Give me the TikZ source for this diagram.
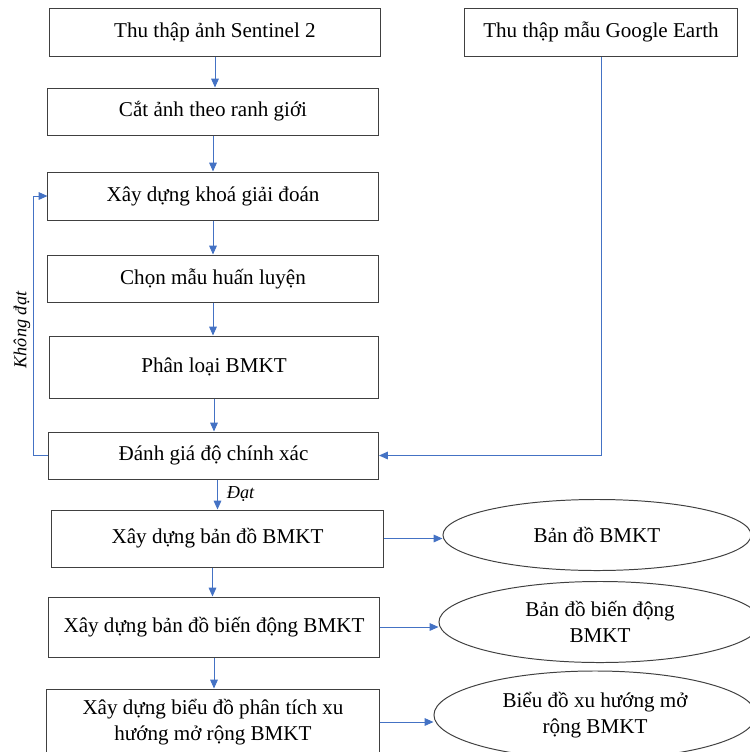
\documentclass[tikz,border=0pt]{standalone}
\usepackage{fontspec}
\setmainfont{Liberation Serif}
\usetikzlibrary{arrows.meta, positioning, calc, shapes, shapes.geometric}
\definecolor{flowblue}{RGB}{68,114,196}
\definecolor{boxgray}{RGB}{64,64,64}

\begin{document}
\begin{tikzpicture}[x=0.025cm,y=-0.025cm,
    box/.style={draw=boxgray,line width=0.7pt,rectangle,minimum width=8.25cm,align=center,font=\fontsize{15}{19}\selectfont},
    oval/.style={draw=boxgray,line width=0.7pt,ellipse,align=center,inner sep=0pt,font=\fontsize{15}{19}\selectfont},
    link/.style={draw=flowblue,line width=0.7pt,-{Triangle[length=2.2mm,width=1.9mm]}},
    tag/.style={font=\fontsize{13}{15}\selectfont\itshape}]
      \useasboundingbox (0,0) rectangle (750,752);
      \clip (0,0) rectangle (750,752);
      \node[box,minimum height=1.2cm] (Sentinel) at (215,32){Thu thập ảnh Sentinel 2};
      \node[box,minimum height=1.2cm,minimum width=6.8cm] (Google) at (601,32){Thu thập mẫu Google Earth};
      \node[box,minimum height=1.175cm] (Cat) at (213,111.5){Cắt ảnh theo ranh giới};
      \node[box,minimum height=1.2cm] (Khoa) at (213,196){Xây dựng khoá giải đoán};
      \node[box,minimum height=1.175cm] (Mau) at (213,278.5){Chọn mẫu huấn luyện};
      \node[box,minimum height=1.55cm,minimum width=8.2cm] (PhanLoai) at (214,367){Phân loại BMKT};
      \node[box,minimum height=1.175cm] (DanhGia) at (213.5,455.5){Đánh giá độ chính xác};
      \node[box,minimum height=1.425cm,minimum width=8.275cm] (BanDo) at (217.5,538.5){Xây dựng bản đồ BMKT};
      \node[box,minimum height=1.5cm] (BienDong) at (214,627){Xây dựng bản đồ biến động BMKT};
      \node[box,minimum height=1.65cm,minimum width=8.3cm] (BieuDo) at (213,722){Xây dựng biểu đồ phân tích xu\\hướng mở rộng BMKT};
      \node[oval,minimum width=7.7cm,minimum height=1.775cm] (OBanDo) at (597,535){Bản đồ BMKT};
      \node[oval,minimum width=8.05cm,minimum height=2.025cm] (OBienDong) at (600,622){Bản đồ biến động\\BMKT};
      \node[oval,minimum width=8.05cm,minimum height=2.2cm] (OBieuDo) at (595,715){Biểu đồ xu hướng mở\\rộng BMKT};
      \draw[link] (Sentinel.south) -- (Sentinel.south |- Cat.north);
      \draw[link] (Cat.south) -- (Cat.south |- Khoa.north);
      \draw[link] (Khoa.south) -- (Khoa.south |- Mau.north);
      \draw[link] (Mau.south) -- (Mau.south |- PhanLoai.north);
      \draw[link] (PhanLoai.south) -- (PhanLoai.south |- DanhGia.north);
      \draw[link] (BanDo.south) ++(-5,0) coordinate (B0) -- (B0 |- BienDong.north);
      \draw[link] (BienDong.south) -- (BienDong.south |- BieuDo.north);
      \draw[link] (DanhGia.south) ++(4,0) coordinate (D0) -- (D0 |- BanDo.north) node[tag,midway,right=3pt] (Dat){Đạt};
      \draw[link] (DanhGia.west) -- ++(-14,0) coordinate (K0) |- (Khoa.west);
      \node[tag,rotate=90] (KhongDat) at (22,330){Không đạt};
      \draw[link] (Google.south) |- (DanhGia.east);
      \draw[link] (BanDo.east) -- (BanDo.east -| OBanDo.west);
      \draw[link] (BienDong.east) -- (BienDong.east -| OBienDong.west);
      \draw[link] (BieuDo.east) -- (BieuDo.east -| OBieuDo.west);
    \end{tikzpicture}
\end{document}
